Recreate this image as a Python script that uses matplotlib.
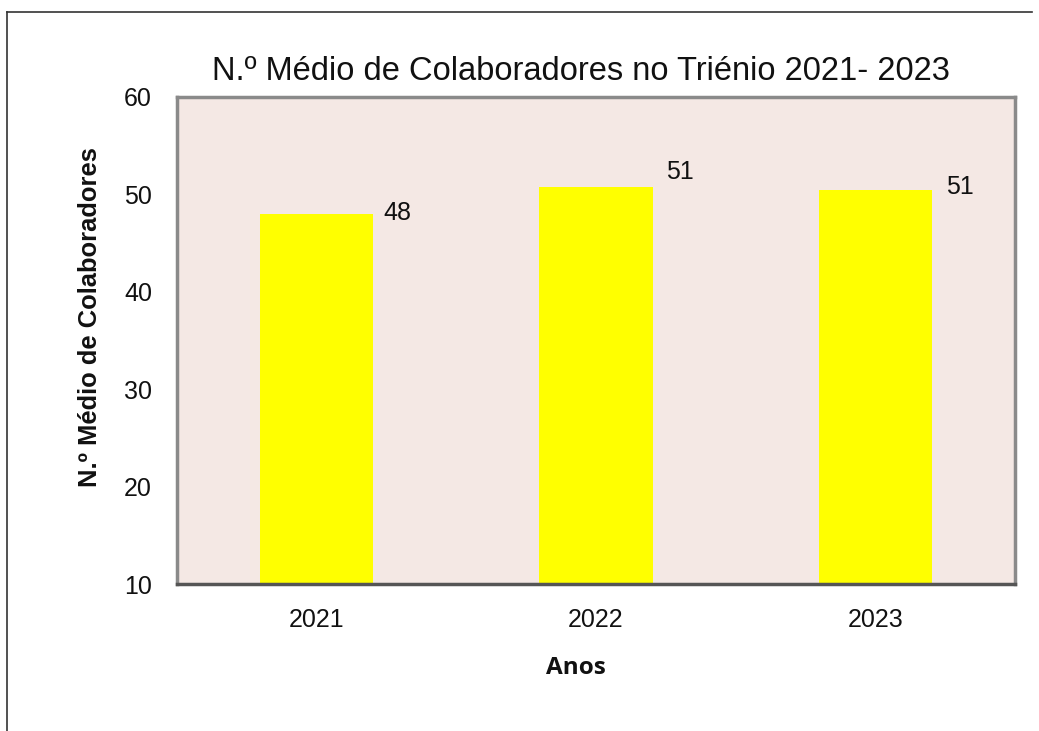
import matplotlib
matplotlib.use("Agg")
import matplotlib.pyplot as plt
from matplotlib.lines import Line2D

categories = ["2021", "2022", "2023"]
values = [48.0, 50.8, 50.5]
value_labels = ["48", "51", "51"]
y_ticks = [10, 20, 30, 40, 50, 60]

plt.rcParams['font.family'] = ['Liberation Sans', 'DejaVu Sans']

W, H = 1039, 731
fig = plt.figure(figsize=(W / 100, H / 100), dpi=100)
fig.patch.set_facecolor('white')

# axes in pixel coordinates: left 177, right 1015, top 97, bottom 584
ax = fig.add_axes([177 / W, 1 - 584 / H, (1015 - 177) / W, (584 - 97) / H])
ax.set_facecolor('#f4e8e4')

x = list(range(len(categories)))
ax.bar(x, [v - 10 for v in values], bottom=10, width=0.405, color='#ffff00', edgecolor='none')

ax.set_xlim(-0.5, len(categories) - 0.5)
ax.set_ylim(10, 60)
ax.set_yticks(y_ticks)
ax.set_yticklabels([str(t) for t in y_ticks])
ax.set_xticks(x)
ax.set_xticklabels(categories)
ax.tick_params(axis='both', length=0, labelsize=18, colors='#111111')
ax.tick_params(axis='y', pad=18)
ax.tick_params(axis='x', pad=17)

for s in ax.spines.values():
    s.set_color('#8a8a8a')
    s.set_linewidth(2.5)
ax.spines['bottom'].set_color('#555555')

offsets = [(10, 1), (13, 15), (14, 3)]
for xi, v, lab, off in zip(x, values, value_labels, offsets):
    ax.annotate(lab, (xi + 0.2025, v), xytext=off, textcoords='offset pixels',
                ha='left', va='center', fontsize=18, color='#111111')

fig.text(90 / W, 1 - 317 / H, 'N.º Médio de Colaboradores', rotation=90,
         ha='center', va='center', fontsize=18.4, fontweight='bold', color='#111111')
fig.text(576 / W, 1 - 668 / H, 'Anos', ha='center', va='center',
         fontsize=17.5, fontweight='bold', color='#111111',
         family=['Open Sans', 'DejaVu Sans'])

fig.text(581 / W, 1 - 80 / H, 'N.º Médio de Colaboradores no Triénio 2021- 2023',
         ha='center', va='baseline', fontsize=23.5, color='#111111')

# page border (scanned frame)
fig.add_artist(Line2D([7 / W, 7 / W], [0, 1 - 12 / H], color='#333333', lw=1.2, transform=fig.transFigure))
fig.add_artist(Line2D([7 / W, 1032 / W], [1 - 12 / H, 1 - 12 / H], color='#333333', lw=1.2, transform=fig.transFigure))

fig.savefig('out.png', dpi=100)
